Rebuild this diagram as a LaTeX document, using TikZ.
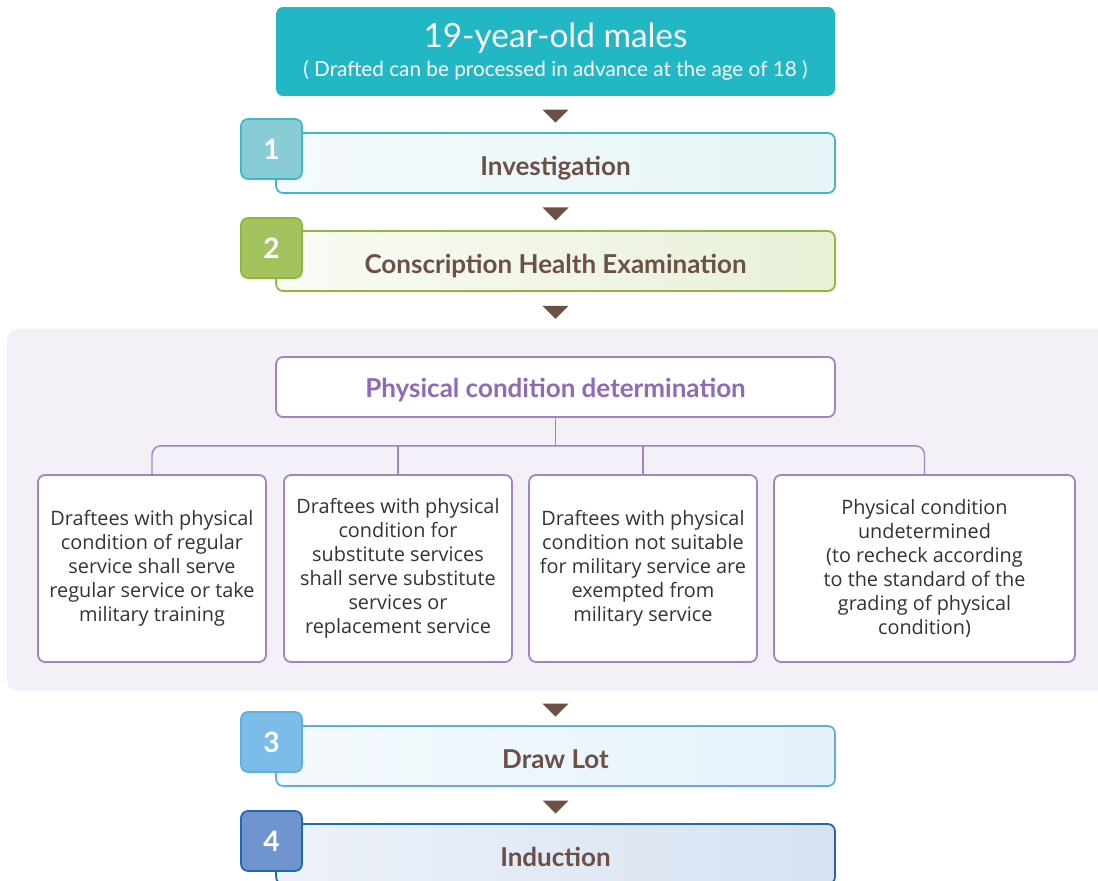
\documentclass[tikz,border=0pt]{standalone}
\usepackage{fontspec}
\setmainfont{Lato}
\newfontfamily\bodyfont{Open Sans}
\usetikzlibrary{positioning,calc}
\definecolor{topteal}{RGB}{33,183,197}
\definecolor{markbrown}{RGB}{107,80,72}
\definecolor{panelbg}{RGB}{243,240,248}
\definecolor{treepurple}{RGB}{160,132,198}
\definecolor{textpurple}{RGB}{142,106,184}
\definecolor{boxtext}{RGB}{51,51,51}
\definecolor{tealline}{RGB}{63,184,197}
\definecolor{tealfill}{RGB}{136,205,213}
\definecolor{greenline}{RGB}{141,184,58}
\definecolor{greenfill}{RGB}{163,195,95}
\definecolor{blueline}{RGB}{91,175,227}
\definecolor{bluefill}{RGB}{123,189,232}
\definecolor{navyline}{RGB}{28,106,177}
\definecolor{navyfill}{RGB}{111,148,206}

% down marker between two nodes
\newcommand{\drop}[2]{%
  \fill[markbrown] ($(#1.south)!0.5!(#2.north) + (-13,-4.5)$) -- ++(26,0) -- ++(-13,13) -- cycle;}

\begin{document}
\begin{tikzpicture}[
  x=0.02cm, y=-0.02cm,
  stepbox/.style={draw, rounded corners=4pt, line width=1pt, minimum width=11.18cm,
    minimum height=1.2cm, text=markbrown, text height=1.38em, text depth=0pt,
    font=\bfseries\fontsize{14.8}{17}\selectfont},
  numbox/.style={draw, rounded corners=4pt, line width=1pt, minimum width=1.22cm,
    minimum height=1.2cm, text=white, font=\bfseries\fontsize{16}{19}\selectfont},
  choice/.style={draw=treepurple, fill=white, rounded corners=4pt, line width=1pt,
    minimum height=3.74cm, align=center, text=boxtext, inner xsep=2pt,
    font=\bodyfont\fontsize{11.3}{13.6}\selectfont},
  tree/.style={draw=treepurple, line width=0.8pt}
]
  \useasboundingbox (0,0) rectangle (1098,881);

  % start
  \node[fill=topteal, rounded corners=4pt, minimum width=11.18cm, minimum height=1.78cm,
        text=white, align=center]
        (top) at (555.5,51.5)
        {{\fontsize{19}{22}\selectfont 19-year-old males}\\[3.5pt]
         {\fontsize{11.8}{13}\selectfont ( Drafted can be processed in advance at the age of 18 )}};

  % steps 1 and 2
  \node[stepbox, draw=tealline, left color=tealfill!8, right color=tealfill!22]
        (s1) at (555.5,163) {Investigation};
  \node[numbox, draw=tealline, fill=tealfill] (n1) at (271.5,149) {1};
  \node[stepbox, draw=greenline, left color=greenfill!6, right color=greenfill!25]
        (s2) at (555.5,261) {Conscription Health Examination};
  \node[numbox, draw=greenline, fill=greenfill] (n2) at (271.5,248) {2};

  % determination panel
  \fill[panelbg, rounded corners=6pt] (7,329) rectangle (1120,691);
  \coordinate (panel) at (555.5,329);
  \coordinate (panelend) at (555.5,691);
  \node[draw=treepurple, fill=white, rounded corners=4pt, line width=1pt,
        minimum width=11.18cm, minimum height=1.2cm, text=textpurple,
        text height=1.2em, text depth=0pt,
        font=\bfseries\fontsize{14.8}{17}\selectfont]
        (pc) at (555.5,387) {Physical condition determination};

  \node[choice, minimum width=4.56cm] (b1) at (152,568.5)
        {Draftees with physical\\condition of regular\\service shall serve\\regular service or take\\military training};
  \node[choice, minimum width=4.56cm] (b2) at (398,568.5)
        {Draftees with physical\\condition for\\substitute services\\shall serve substitute\\services or\\replacement service};
  \node[choice, minimum width=4.56cm] (b3) at (643,568.5)
        {Draftees with physical\\condition not suitable\\for military service are\\exempted from\\military service};
  \node[choice, minimum width=6.02cm] (b4) at (924.5,568.5)
        {Physical condition\\undetermined\\(to recheck according\\to the standard of the\\grading of physical\\condition)};

  \coordinate (bus) at ($(pc.south) + (0,28)$);
  \draw[tree] (pc.south) -- (bus);
  \draw[tree, rounded corners=5pt] (b1.north) -- (b1.north |- bus) -- (b4.north |- bus) -- (b4.north);
  \draw[tree] (b2.north) -- (b2.north |- bus);
  \draw[tree] (b3.north) -- (b3.north |- bus);

  % steps 3 and 4
  \node[stepbox, draw=blueline, left color=bluefill!8, right color=bluefill!20]
        (s3) at (555.5,756) {Draw Lot};
  \node[numbox, draw=blueline, fill=bluefill] (n3) at (271.5,742) {3};
  \node[stepbox, draw=navyline, left color=navyfill!12, right color=navyfill!28]
        (s4) at (555.5,854) {Induction};
  \node[numbox, draw=navyline, fill=navyfill] (n4) at (271.5,841) {4};

  % markers
  \drop{top}{s1}
  \drop{s1}{s2}
  \drop{s2}{panel}
  \drop{panelend}{s3}
  \drop{s3}{s4}
\end{tikzpicture}
\end{document}
